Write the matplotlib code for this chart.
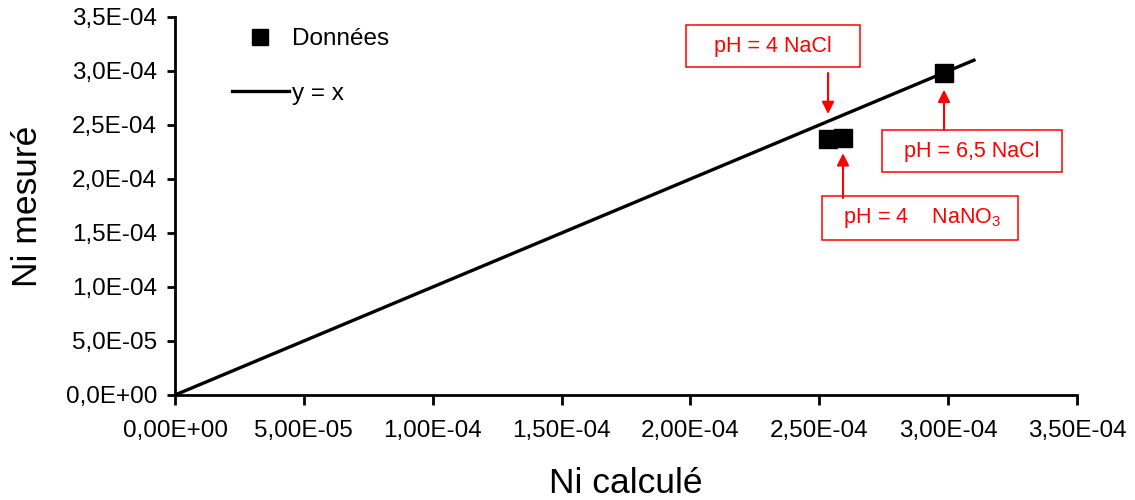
import matplotlib
matplotlib.use('Agg')
import matplotlib.pyplot as plt
from matplotlib.ticker import FuncFormatter, MultipleLocator
from matplotlib.lines import Line2D

plt.rcParams['font.family'] = ['Liberation Sans', 'DejaVu Sans']
plt.rcParams['mathtext.fontset'] = 'custom'
plt.rcParams['mathtext.rm'] = 'Liberation Sans'
plt.rcParams['mathtext.default'] = 'regular'

# données
ni_calcule = [2.534e-4, 2.592e-4, 2.984e-4]
ni_mesure = [2.370e-4, 2.380e-4, 2.981e-4]
droite = [0.0, 3.1e-4]  # y = x
etiquettes = ['   pH = 4 NaCl   ', '  pH = 4    NaNO$_3$  ', '  pH = 6,5 NaCl  ']
# (indice du point, décalage boîte en px, départ flèche en px, shrinkB en pt)
annot_style = [
    (0, (-55, 93), (0, 66), 18),
    (1, (77, -80), (0, -60), 11),
    (2, (28, -78), (0, -57), 12),
]

fig = plt.figure(figsize=(11.35, 5.0), dpi=100)
ax = fig.add_axes([175/1135, 1-395/500, 902/1135, 378/500])

ax.plot(droite, droite, color='black', lw=2.4, label='y = x', zorder=2)
ax.plot(ni_calcule, ni_mesure, 's', color='black', ms=12.5, label='Données', zorder=3)

ax.set_xlim(0, 3.5e-4)
ax.set_ylim(0, 3.5e-4)
ax.xaxis.set_major_locator(MultipleLocator(5e-5))
ax.yaxis.set_major_locator(MultipleLocator(5e-5))
ax.xaxis.set_major_formatter(FuncFormatter(lambda v, p: f'{v:.2E}'.replace('.', ',')))
ax.yaxis.set_major_formatter(FuncFormatter(lambda v, p: f'{v:.1E}'.replace('.', ',')))
for s in ['top', 'right']:
    ax.spines[s].set_visible(False)
for s in ['left', 'bottom']:
    ax.spines[s].set_linewidth(2)
ax.tick_params(axis='both', direction='out', width=2, labelsize=17.5)
ax.tick_params(axis='y', length=6, pad=7)
ax.tick_params(axis='x', length=7, pad=11)

ax.set_xlabel('Ni calculé', fontsize=25.5)
ax.set_ylabel('Ni mesuré', fontsize=25.5)
ax.xaxis.set_label_coords(0.5, -0.19)
ax.yaxis.set_label_coords(-0.145, 0.5)

handles = [Line2D([], [], ls='none', marker='s', color='black', ms=12),
           Line2D([], [], color='black', lw=2.4)]
fig.legend(handles, ['Données', 'y = x'], loc='upper left',
           bbox_to_anchor=(232/1135, 1-28/500), frameon=False, fontsize=17.5,
           borderpad=0, borderaxespad=0, handlelength=2.33, handletextpad=0.13,
           labelspacing=1.35)

for txt, (i, off, dep, sb) in zip(etiquettes, annot_style):
    pt = (ni_calcule[i], ni_mesure[i])
    ax.annotate(txt, xy=pt, xycoords='data', xytext=off, textcoords='offset pixels',
                ha='center', va='center', color='red', fontsize=15.5,
                bbox=dict(boxstyle='square,pad=0.47', fc='white', ec='red', lw=1.1))
    ax.annotate('', xy=pt, xycoords='data', xytext=dep, textcoords='offset pixels',
                arrowprops=dict(arrowstyle='-|>', color='red', lw=1.5,
                                mutation_scale=18, shrinkA=0, shrinkB=sb))

fig.savefig('out.png', dpi=100)
